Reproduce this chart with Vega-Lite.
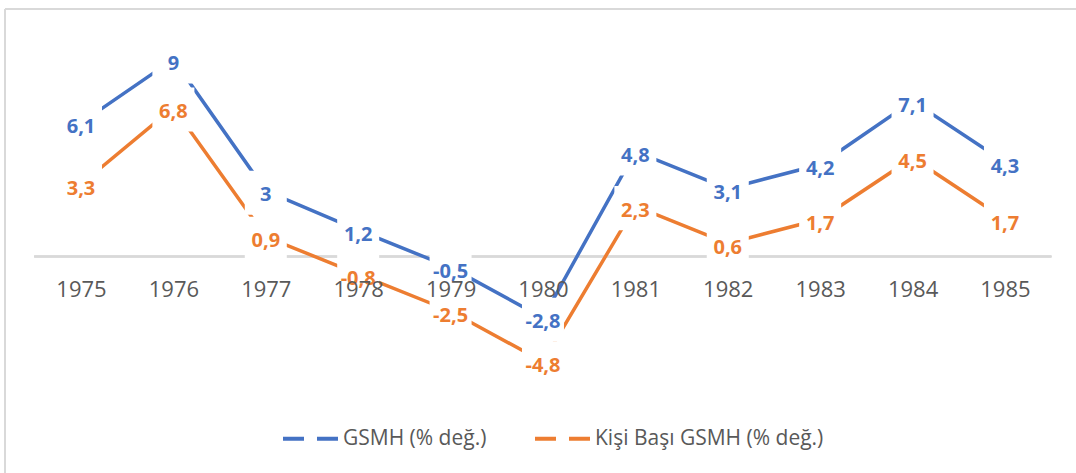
{
  "$schema": "https://vega.github.io/schema/vega-lite/v6.json",
  "width": 1071,
  "height": 464,
  "autosize": {"type": "none"},
  "padding": {"left": 5, "top": 9, "right": 0, "bottom": 0},
  "background": "white",
  "config": {"view": {"stroke": null}},
  "data": {
    "values": [
      {"year": 1975, "series": "GSMH (% değ.)", "value": 6.1, "label": "6,1"},
      {"year": 1976, "series": "GSMH (% değ.)", "value": 9, "label": "9"},
      {"year": 1977, "series": "GSMH (% değ.)", "value": 3, "label": "3"},
      {"year": 1978, "series": "GSMH (% değ.)", "value": 1.2, "label": "1,2"},
      {"year": 1979, "series": "GSMH (% değ.)", "value": -0.5, "label": "-0,5"},
      {"year": 1980, "series": "GSMH (% değ.)", "value": -2.8, "label": "-2,8"},
      {"year": 1981, "series": "GSMH (% değ.)", "value": 4.8, "label": "4,8"},
      {"year": 1982, "series": "GSMH (% değ.)", "value": 3.1, "label": "3,1"},
      {"year": 1983, "series": "GSMH (% değ.)", "value": 4.2, "label": "4,2"},
      {"year": 1984, "series": "GSMH (% değ.)", "value": 7.1, "label": "7,1"},
      {"year": 1985, "series": "GSMH (% değ.)", "value": 4.3, "label": "4,3"},
      {"year": 1975, "series": "Kişi Başı GSMH (% değ.)", "value": 3.3, "label": "3,3"},
      {"year": 1976, "series": "Kişi Başı GSMH (% değ.)", "value": 6.8, "label": "6,8"},
      {"year": 1977, "series": "Kişi Başı GSMH (% değ.)", "value": 0.9, "label": "0,9"},
      {"year": 1978, "series": "Kişi Başı GSMH (% değ.)", "value": -0.8, "label": "-0,8"},
      {"year": 1979, "series": "Kişi Başı GSMH (% değ.)", "value": -2.5, "label": "-2,5"},
      {"year": 1980, "series": "Kişi Başı GSMH (% değ.)", "value": -4.8, "label": "-4,8"},
      {"year": 1981, "series": "Kişi Başı GSMH (% değ.)", "value": 2.3, "label": "2,3"},
      {"year": 1982, "series": "Kişi Başı GSMH (% değ.)", "value": 0.6, "label": "0,6"},
      {"year": 1983, "series": "Kişi Başı GSMH (% değ.)", "value": 1.7, "label": "1,7"},
      {"year": 1984, "series": "Kişi Başı GSMH (% değ.)", "value": 4.5, "label": "4,5"},
      {"year": 1985, "series": "Kişi Başı GSMH (% değ.)", "value": 1.7, "label": "1,7"}
    ]
  },
  "encoding": {
    "x": {
      "field": "year",
      "type": "quantitative",
      "scale": {"domain": [1974.1775, 1985.769], "nice": false, "zero": false},
      "axis": {
        "orient": "bottom",
        "offset": -216.5,
        "domain": false,
        "ticks": false,
        "tickSize": 0,
        "grid": false,
        "values": [1975, 1976, 1977, 1978, 1979, 1980, 1981, 1982, 1983, 1984, 1985],
        "format": "d",
        "labelPadding": 23,
        "labelFont": "Open Sans",
        "labelFontSize": 22,
        "labelColor": "#595959",
        "labelFlush": false,
        "labelOverlap": false,
        "title": null,
        "zindex": 1
      }
    },
    "y": {
      "field": "value",
      "type": "quantitative",
      "scale": {"domain": [-9.886, 11.301], "nice": false, "zero": false},
      "axis": null
    }
  },
  "layer": [
    {
      "mark": {"type": "rule", "color": "#D9D9D9", "strokeWidth": 1.5},
      "encoding": {
        "x": {"datum": 1974.5, "type": "quantitative"},
        "x2": {"datum": 1985.5},
        "y": {"datum": 0, "type": "quantitative"}
      }
    },
    {
      "mark": {"type": "rule", "color": "#D9D9D9", "strokeWidth": 1.5},
      "encoding": {
        "x": {"datum": 1974.1775, "type": "quantitative"},
        "y": null
      }
    },
    {
      "mark": {"type": "rule", "color": "#D9D9D9", "strokeWidth": 1.5},
      "encoding": {
        "y": {"datum": 11.301, "type": "quantitative"},
        "x": null
      }
    },
    {
      "mark": {"type": "line", "strokeWidth": 3.5, "strokeCap": "butt"},
      "encoding": {
        "color": {
          "field": "series",
          "type": "nominal",
          "scale": {"domain": ["GSMH (% değ.)", "Kişi Başı GSMH (% değ.)"], "range": ["#4472C4", "#ED7D31"]},
          "legend": {
            "orient": "none",
            "legendX": 276,
            "legendY": 400,
            "direction": "horizontal",
            "title": null,
            "symbolType": "stroke",
            "symbolSize": 3025,
            "symbolStrokeWidth": 4,
            "symbolDash": [21, 13],
            "labelFont": "Open Sans",
            "labelFontSize": 21,
            "labelColor": "#595959",
            "labelOffset": 3,
            "columnPadding": 40,
            "labelLimit": 400
          }
        }
      }
    },
    {
      "mark": {
        "type": "point",
        "shape": "M-1,-1.05L1,-1.05L1,1.05L-1,1.05Z",
        "size": 1764,
        "filled": true,
        "fill": "white",
        "opacity": 1,
        "strokeWidth": 0,
        "yOffset": 2
      }
    },
    {
      "mark": {"type": "text", "font": "Open Sans", "fontSize": 20, "fontWeight": "bold", "dy": 4.5, "baseline": "middle", "align": "center"},
      "encoding": {
        "text": {"field": "label"},
        "fill": {
          "field": "series",
          "type": "nominal",
          "scale": {"domain": ["GSMH (% değ.)", "Kişi Başı GSMH (% değ.)"], "range": ["#4472C4", "#ED7D31"]},
          "legend": null
        }
      }
    }
  ]
}
